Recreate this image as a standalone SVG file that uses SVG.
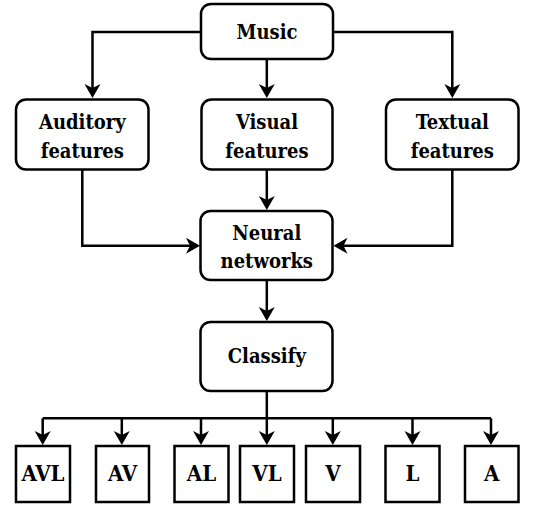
<svg xmlns="http://www.w3.org/2000/svg" width="547" height="506" viewBox="0 0 547 506">
<style>
.box{fill:#fff;stroke:#000;stroke-width:2.5}
.c{fill:none;stroke:#000;stroke-width:2.5}
.h{fill:#000;stroke:none}
.leaf{font-size:22px}
</style>
<defs>
<path id="hd" d="M-8,-14 L0,0 L8,-14 L0,-10 Z"/>
</defs>
<g id="connectors">
<path class="c" d="M201,32 H92.5 V88"/>
<path class="c" d="M266.8,59 V88"/>
<path class="c" d="M333,32 H452.3 V88"/>
<path class="c" d="M82.3,169 V245.7 H190"/>
<path class="c" d="M266.8,169 V200"/>
<path class="c" d="M452.3,169 V245.7 H343"/>
<path class="c" d="M266.8,280 V312"/>
<path class="c" d="M266.8,391 V418.3"/>
<path class="c" d="M42.7,418.3 H491"/>
<path class="c" d="M42.7,418.3 V436"/>
<path class="c" d="M121.8,418.3 V436"/>
<path class="c" d="M201,418.3 V436"/>
<path class="c" d="M266.8,418.3 V436"/>
<path class="c" d="M332.8,418.3 V436"/>
<path class="c" d="M412.5,418.3 V436"/>
<path class="c" d="M491,418.3 V436"/>
<use href="#hd" class="h" x="92.5" y="98"/>
<use href="#hd" class="h" x="266.8" y="98"/>
<use href="#hd" class="h" x="452.3" y="98"/>
<use href="#hd" class="h" transform="translate(200,245.7) rotate(-90)"/>
<use href="#hd" class="h" transform="translate(333.5,245.7) rotate(90)"/>
<use href="#hd" class="h" x="266.8" y="210"/>
<use href="#hd" class="h" x="266.8" y="321"/>
<use href="#hd" class="h" x="42.7" y="445"/>
<use href="#hd" class="h" x="121.8" y="445"/>
<use href="#hd" class="h" x="201" y="445"/>
<use href="#hd" class="h" x="266.8" y="445"/>
<use href="#hd" class="h" x="332.8" y="445"/>
<use href="#hd" class="h" x="412.5" y="445"/>
<use href="#hd" class="h" x="491" y="445"/>
</g>
<g font-family="'DejaVu Serif Condensed', 'DejaVu Serif', serif" font-weight="bold" font-size="20" text-anchor="middle" fill="#000">
<g id="music"><rect class="box" x="201" y="4" width="132" height="55" rx="10"/><text x="267" y="39">Music</text></g>
<g id="auditory"><rect class="box" x="16" y="99.5" width="132.5" height="70" rx="10"/><text x="82.3" y="128.5">Auditory</text><text x="82.3" y="157.5">features</text></g>
<g id="visual"><rect class="box" x="201.5" y="99.5" width="131" height="70" rx="10"/><text x="267" y="128.5">Visual</text><text x="267" y="157.5">features</text></g>
<g id="textual"><rect class="box" x="386" y="99.5" width="132.5" height="70" rx="10"/><text x="452.3" y="128.5">Textual</text><text x="452.3" y="157.5">features</text></g>
<g id="neural"><rect class="box" x="200.5" y="211" width="132" height="69" rx="10"/><text x="266.8" y="239.5">Neural</text><text x="266.8" y="267.5">networks</text></g>
<g id="classify"><rect class="box" x="200.5" y="322" width="132" height="69" rx="10"/><text x="266.8" y="362.7">Classify</text></g>
<g id="avl"><rect class="box" x="16" y="446" width="54" height="56"/><text class="leaf" x="43" y="481">AVL</text></g>
<g id="av"><rect class="box" x="96" y="446" width="53" height="56"/><text class="leaf" x="122.5" y="481">AV</text></g>
<g id="al"><rect class="box" x="174.5" y="446" width="54" height="56"/><text class="leaf" x="201.5" y="481">AL</text></g>
<g id="vl"><rect class="box" x="240" y="446" width="54" height="56"/><text class="leaf" x="267" y="481">VL</text></g>
<g id="v"><rect class="box" x="306" y="446" width="54" height="56"/><text class="leaf" x="333" y="481">V</text></g>
<g id="l"><rect class="box" x="385.5" y="446" width="54" height="56"/><text class="leaf" x="412.5" y="481">L</text></g>
<g id="a"><rect class="box" x="465" y="446" width="53.5" height="56"/><text class="leaf" x="491.8" y="481">A</text></g>
</g>
</svg>
